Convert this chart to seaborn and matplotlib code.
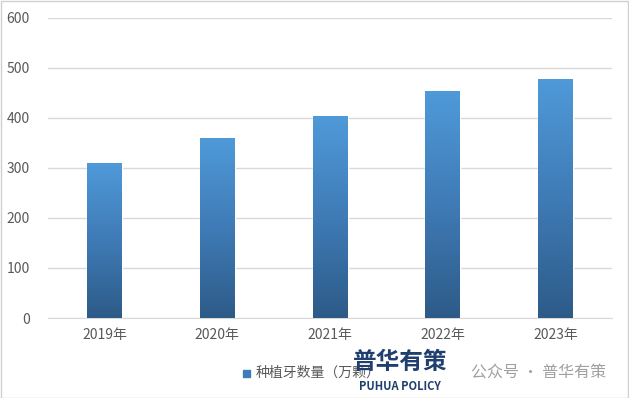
import matplotlib.pyplot as plt
import numpy as np
import pandas as pd
import seaborn as sns
from matplotlib.colors import LinearSegmentedColormap
from matplotlib.patches import Rectangle

years = ["2019年", "2020年", "2021年", "2022年", "2023年"]
implants = [310, 360, 403, 454, 478]
series_name = "种植牙数量（万颗）"

df = pd.DataFrame({"year": years, "value": implants})

sns.set_style("white")
plt.rcParams['font.family'] = ['Noto Sans CJK SC', 'DejaVu Sans']

fig = plt.figure(figsize=(6.29, 3.98), dpi=100)
ax = fig.add_axes([0.0763, 0.201, 0.897, 0.754])

sns.barplot(data=df, x="year", y="value", ax=ax, width=0.31,
            color="#3f7fbf", saturation=1, zorder=2)

# vertical gradient on each bar (light on top, dark at the bottom)
cmap = LinearSegmentedColormap.from_list("bar", ["#2d5b88", "#3f7bb6", "#4f9ad9"])
grad = np.linspace(0, 1, 256).reshape(-1, 1)
for p in ax.patches:
    x0, w, h = p.get_x(), p.get_width(), p.get_height()
    im = ax.imshow(grad, cmap=cmap, origin="lower", aspect="auto",
                   extent=[x0, x0 + w, 0, h], zorder=3)
    im.set_clip_path(p)

ax.set_xlim(-0.5, 4.5)
ax.set_ylim(0, 600)
ax.set_yticks(range(0, 601, 100))
ax.yaxis.grid(True, color="#d9d9d9", linewidth=1, zorder=0)
ax.set_axisbelow(True)
for s in ["top", "right", "left"]:
    ax.spines[s].set_visible(False)
ax.spines["bottom"].set_color("#d9d9d9")
ax.set_xlabel("")
ax.set_ylabel("")
ax.tick_params(axis="both", length=0, labelsize=10, colors="#595959", pad=7)
ax.tick_params(axis="y", pad=13)

# legend
fig.patches.append(Rectangle((243 / 629, 1 - 377 / 398), 7 / 629, 7 / 398,
                             transform=fig.transFigure, color="#3f7bb6"))
fig.text(256 / 629, 1 - 373 / 398, series_name, fontsize=10, color="#595959",
         va="center", ha="left")

# watermark
fig.text(400 / 629, 1 - 362 / 398, "普华有策", fontsize=17, fontweight="bold",
         color="#1f3f6e", ha="center", va="center")
fig.text(400 / 629, 1 - 387 / 398, "PUHUA POLICY", fontsize=8, fontweight="bold",
         color="#1f3f6e", ha="center", va="center")
fig.text(539 / 629, 1 - 373 / 398, "公众号 · 普华有策", fontsize=11.5, color="#a0a0a0",
         ha="center", va="center")

# outer border
fig.patches.append(Rectangle((0.001, 0.001), 0.997, 0.997, transform=fig.transFigure,
                             fill=False, edgecolor="#d0d0d0", linewidth=1))

fig.savefig("out.png", dpi=100)
